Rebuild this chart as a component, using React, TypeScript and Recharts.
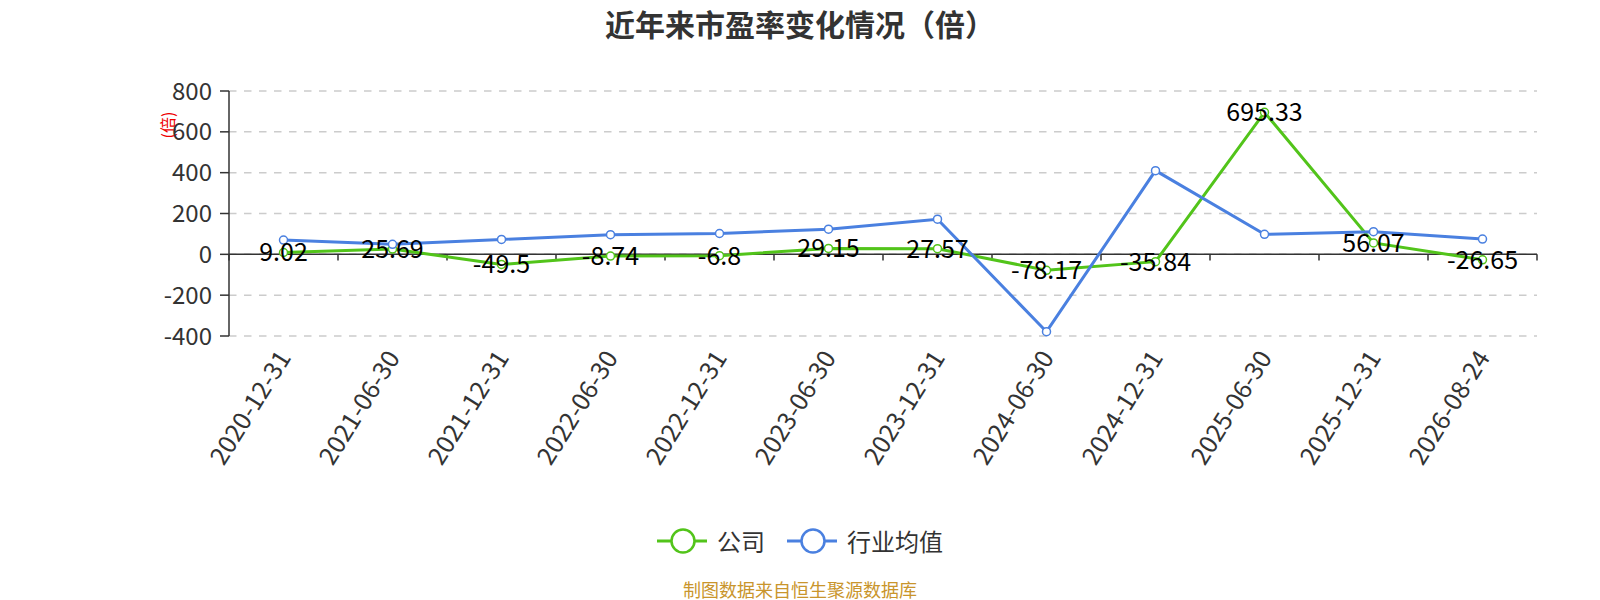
import { LineChart, Line, XAxis, YAxis, CartesianGrid, ReferenceLine, LabelList } from "recharts";

const dates = [
  "2020-12-31", "2021-06-30", "2021-12-31", "2022-06-30", "2022-12-31", "2023-06-30",
  "2023-12-31", "2024-06-30", "2024-12-31", "2025-06-30", "2025-12-31", "2026-08-24",
];
const companyPE = [9.02, 25.69, -49.5, -8.74, -6.8, 29.15, 27.57, -78.17, -35.84, 695.33, 56.07, -26.65];
const industryPE = [70, 49, 73, 96, 102, 123, 172, -379, 410, 98, 111, 75];
const yTicks = [-400, -200, 0, 200, 400, 600, 800];

const GREEN = "#52c41a";
const BLUE = "#4a80e0";
const FONT = "'Noto Sans CJK SC', 'Noto Sans', sans-serif";

const data = dates.map((d, i) => ({ idx: i, date: d, company: companyPE[i], industry: industryPE[i] }));
const boundaries = [...dates.map((_, i) => i - 0.5), dates.length - 0.5];

const XTick = ({ x, y, payload }: any) => (
  <g transform={`translate(${x - 1},${y + 16})`}>
    <text
      x={0}
      y={0}
      transform="rotate(-58)"
      textAnchor="end"
      dominantBaseline="central"
      fontSize={25}
      fill="#333"
      fontFamily={FONT}
    >
      {dates[payload.value]}
    </text>
  </g>
);

const ValueLabel = (props: any) => {
  const { x, y, value } = props;
  return (
    <text x={x} y={y - 2} textAnchor="middle" dominantBaseline="central" fontSize={25} fill="#000" fontFamily={FONT}>
      {String(value)}
    </text>
  );
};

const LegendItem = ({ color, label }: { color: string; label: string }) => (
  <div style={{ display: "flex", alignItems: "center", marginRight: 22 }}>
    <svg width={50} height={28}>
      <line x1={0} y1={14} x2={50} y2={14} stroke={color} strokeWidth={3} />
      <circle cx={26} cy={14} r={11.5} fill="#fff" stroke={color} strokeWidth={2.5} />
    </svg>
    <span style={{ marginLeft: 10, fontSize: 24, color: "#333" }}>{label}</span>
  </div>
);

export default function App() {
  return (
    <div style={{ position: "absolute", left: 0, top: 0, width: 1600, height: 600, background: "#fff", fontFamily: FONT }}>
      <div
        style={{
          position: "absolute", top: 4, left: 0, width: 1600, textAlign: "center",
          fontSize: 30, fontWeight: 700, color: "#333", lineHeight: "38px",
        }}
      >
        近年来市盈率变化情况（倍）
      </div>
      <div
        style={{
          position: "absolute", left: 167, top: 125, transform: "translate(-50%,-50%) rotate(-90deg)",
          fontSize: 16, color: "#e00", whiteSpace: "nowrap",
        }}
      >
        (倍)
      </div>
      <LineChart width={1600} height={600} data={data} margin={{ top: 91, right: 63, left: 149, bottom: 84 }}>
        <CartesianGrid vertical={false} stroke="#ccc" strokeWidth={1.5} strokeDasharray="7.5 7.5" />
        <XAxis
          dataKey="idx"
          type="number"
          domain={[-0.5, 11.5]}
          ticks={dates.map((_, i) => i)}
          interval={0}
          axisLine={false}
          tickLine={false}
          tickSize={0}
          tickMargin={0}
          height={180}
          tick={<XTick />}
        />
        <YAxis
          domain={[-400, 800]}
          ticks={yTicks}
          width={80}
          axisLine={{ stroke: "#333", strokeWidth: 1.5 }}
          tickLine={{ stroke: "#333", strokeWidth: 1.5 }}
          tickSize={9}
          tickMargin={8}
          tick={{ fill: "#333", fontSize: 24, fontFamily: FONT }}
        />
        <ReferenceLine y={0} stroke="#333" strokeWidth={1.5} />
        {boundaries.map((b) => (
          <ReferenceLine
            key={b}
            segment={[{ x: b, y: 0 }, { x: b, y: -30 }]}
            stroke="#333"
            strokeWidth={1.5}
            ifOverflow="visible"
          />
        ))}
        <Line
          dataKey="company"
          stroke={GREEN}
          strokeWidth={3}
          dot={{ r: 4, fill: "#fff", stroke: GREEN, strokeWidth: 1.5 }}
          activeDot={false}
          isAnimationActive={false}
        />
        <Line
          dataKey="industry"
          stroke={BLUE}
          strokeWidth={3}
          dot={{ r: 4, fill: "#fff", stroke: BLUE, strokeWidth: 1.5 }}
          activeDot={false}
          isAnimationActive={false}
        />
        <Line dataKey="company" stroke="none" dot={false} activeDot={false} isAnimationActive={false}>
          <LabelList dataKey="company" content={<ValueLabel />} />
        </Line>
      </LineChart>
      <div
        style={{
          position: "absolute", top: 523, left: 0, width: 1600, display: "flex", justifyContent: "center",
          paddingLeft: 22, boxSizing: "border-box",
        }}
      >
        <LegendItem color={GREEN} label="公司" />
        <LegendItem color={BLUE} label="行业均值" />
      </div>
      <div
        style={{
          position: "absolute", top: 577, left: 0, width: 1600, textAlign: "center",
          fontSize: 18, color: "#c9952c", lineHeight: "24px",
        }}
      >
        制图数据来自恒生聚源数据库
      </div>
    </div>
  );
}
